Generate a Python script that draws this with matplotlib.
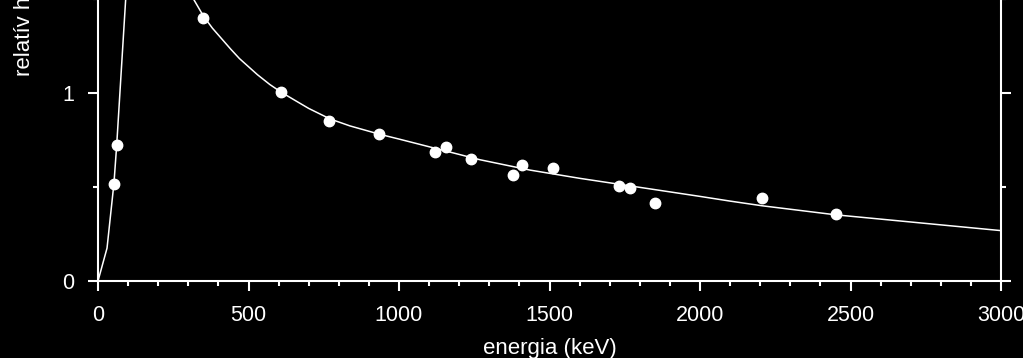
import matplotlib.pyplot as plt
from matplotlib.ticker import MultipleLocator, FixedLocator

# measured points (energy in keV, relative efficiency)
point_energy = [52, 62, 350, 608, 767, 935, 1121, 1156, 1239, 1379, 1410, 1511, 1731, 1766, 1849, 2207, 2451]
point_eff = [0.516, 0.723, 1.40, 1.006, 0.849, 0.784, 0.687, 0.712, 0.648, 0.564, 0.617, 0.601, 0.505, 0.495, 0.415, 0.442, 0.355]

# fitted curve
curve_energy = [0, 30, 53, 62, 92, 120, 200, 260, 300, 319, 350, 380, 410, 440, 470, 500, 530, 571, 608, 650, 700, 771,
                837, 937, 1000, 1269, 1435, 1601, 2000, 2100, 2207, 2451, 3000]
curve_eff = [0, 0.175, 0.52, 0.72, 1.5, 2.1, 2.0, 1.75, 1.57, 1.495, 1.41, 1.345, 1.29, 1.235, 1.183, 1.14, 1.097, 1.045, 1.005,
             0.965, 0.918, 0.862, 0.825, 0.78, 0.755, 0.645, 0.59, 0.546, 0.45, 0.425, 0.40, 0.352, 0.268]

plt.rcParams['font.family'] = ['Liberation Sans', 'DejaVu Sans']

fig = plt.figure(figsize=(10.23, 3.58), dpi=100, facecolor='black')
# axes reaches above the top of the figure (the picture is cropped)
ax = fig.add_axes([98 / 1023, 77 / 358, 903 / 1023, 564 / 358])
ax.set_facecolor('black')

ax.plot(curve_energy, curve_eff, color='white', lw=1.1)
ax.plot(point_energy, point_eff, 'o', color='white', ms=7.5, mec='white')

ax.set_xlim(0, 3000)
ax.set_ylim(0, 3)

ax.xaxis.set_major_locator(MultipleLocator(500))
ax.xaxis.set_minor_locator(MultipleLocator(100))
ax.yaxis.set_major_locator(FixedLocator([0, 1]))
ax.yaxis.set_minor_locator(FixedLocator([0.5, 1.5]))

for side in ['left', 'right', 'bottom']:
    ax.spines[side].set_color('white')
    ax.spines[side].set_linewidth(1.5)
ax.spines['top'].set_visible(False)

ax.tick_params(which='both', colors='white', direction='out', width=1.5,
               left=True, right=True, bottom=True, top=False,
               labelleft=True, labelright=False, labelsize=15.5)
ax.tick_params(which='major', length=7)
ax.tick_params(which='minor', length=3.5)
ax.tick_params(axis='x', pad=10)
ax.tick_params(axis='y', pad=10)

ax.set_xlabel('energia (keV)', color='white', fontsize=16, labelpad=9)
fig.text(25 / 1023, 1 - 76 / 358, 'relatív hatásfok', color='white', fontsize=16,
         rotation=90, ha='center', va='bottom')

fig.savefig('out.png', dpi=100, facecolor='black')
